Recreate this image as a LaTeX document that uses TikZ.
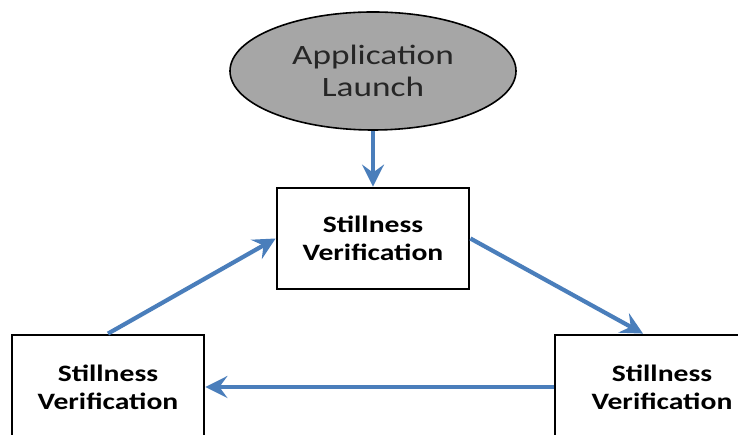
\documentclass[tikz,border=0pt]{standalone}
\usepackage{fontspec}
\setmainfont{Carlito}[FakeStretch=1.26]
\usetikzlibrary{shapes.geometric,arrows.meta,calc}
\definecolor{arrowblue}{HTML}{4A7EBB}
\definecolor{ellgray}{HTML}{A6A6A6}
\tikzset{
  startnode/.style={ellipse, draw=black, line width=1.6pt, fill=ellgray,
    minimum width=286pt, minimum height=118pt, inner sep=0pt, align=center,
    text=black!85, font=\fontsize{28}{32}\selectfont},
  verifbox/.style={rectangle, draw=black, line width=2.8pt, fill=white,
    inner sep=0pt, align=center, font=\bfseries\fontsize{23.5}{28}\selectfont},
  flow/.style={draw=arrowblue, line width=4.2pt,
    -{Stealth[length=22pt, width=22pt, inset=8pt]}}
}
\begin{document}
\begin{tikzpicture}[x=1pt, y=1pt]
\useasboundingbox (0,0) rectangle (738,435);
\clip (0,0) rectangle (738,435);
\fill[white] (0,0) rectangle (738,435);
\node[startnode] (launch) at (373,364) {Application\\Launch};
\node[verifbox, minimum width=192pt, minimum height=101pt] (top) at (373,196.5) {Stillness\\Verification};
\node[verifbox, minimum width=192pt, minimum height=104pt] (left) at (108,48) {Stillness\\Verification};
\node[verifbox, minimum width=214pt, minimum height=104pt] (right) at (662,48) {Stillness\\Verification};
\coordinate (rtop) at ($(right.north)+(-19,0)$);
\draw[flow] (launch.south) -- (top.north);
\draw[flow] (left.north) -- (top.west);
\draw[flow] (top.east) -- (rtop);
\draw[flow] (right.west) -- (left.east);
\end{tikzpicture}
\end{document}
